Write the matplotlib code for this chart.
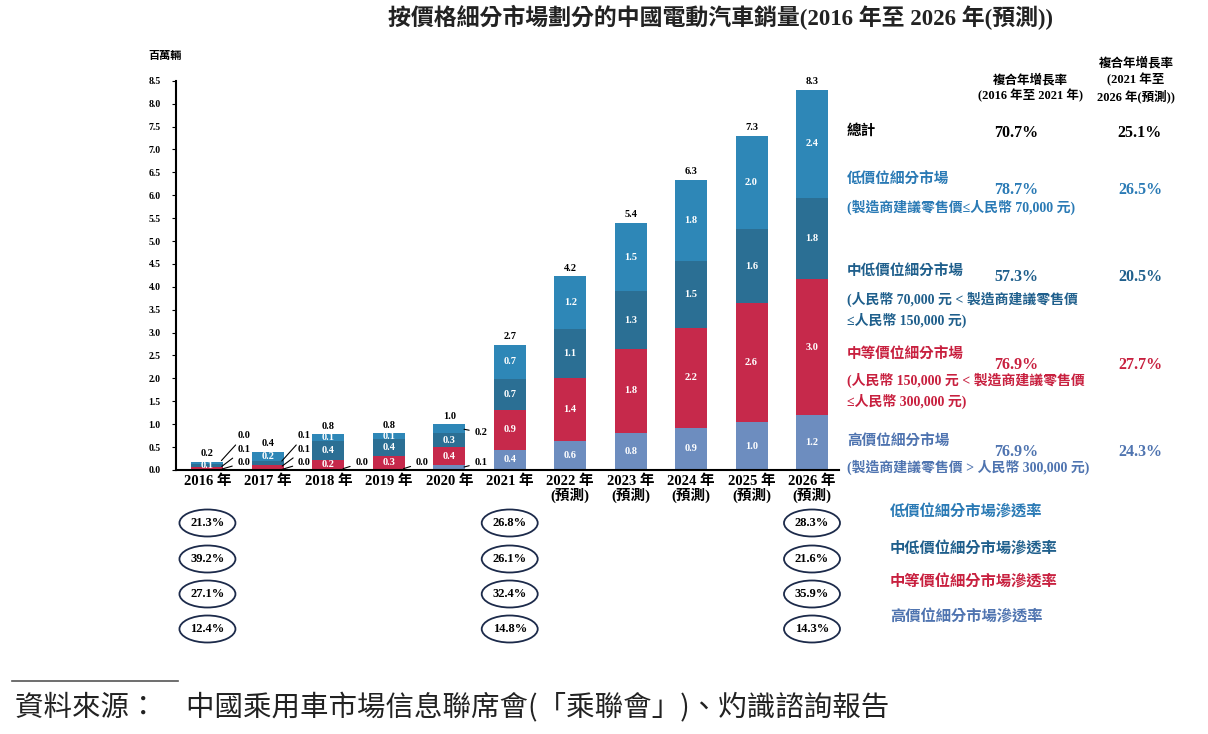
import matplotlib
matplotlib.use("Agg")
import matplotlib.pyplot as plt
from matplotlib.patches import Ellipse

plt.rcParams['font.family'] = ['Liberation Serif', 'Noto Sans CJK TC', 'DejaVu Sans']
plt.rcParams['font.weight'] = 'bold'

years = ["2016 年", "2017 年", "2018 年", "2019 年", "2020 年", "2021 年",
         "2022 年\n(預測)", "2023 年\n(預測)", "2024 年\n(預測)", "2025 年\n(預測)", "2026 年\n(預測)"]

# 百萬輛, 由下至上
high    = [0.01, 0.0, 0.02, 0.02, 0.1, 0.44, 0.63, 0.81, 0.92, 1.04, 1.2]
mid     = [0.06, 0.1, 0.2, 0.28, 0.4, 0.87, 1.38, 1.83, 2.19, 2.6, 2.96]
mid_low = [0.07, 0.1, 0.42, 0.38, 0.3, 0.68, 1.06, 1.26, 1.46, 1.62, 1.78]
low     = [0.04, 0.2, 0.14, 0.12, 0.2, 0.74, 1.16, 1.50, 1.76, 2.04, 2.36]

seg_names = ["高價位細分市場", "中等價位細分市場", "中低價位細分市場", "低價位細分市場"]
cagr_16_21 = ["76.9%", "76.9%", "57.3%", "78.7%"]
cagr_21_26 = ["24.3%", "27.7%", "20.5%", "26.5%"]
total_cagr = ["70.7%", "25.1%"]
seg_notes = ["(製造商建議零售價 > 人民幣 300,000 元)",
             "(人民幣 150,000 元 < 製造商建議零售價\n≤人民幣 300,000 元)",
             "(人民幣 70,000 元 < 製造商建議零售價\n≤人民幣 150,000 元)",
             "(製造商建議零售價≤人民幣 70,000 元)"]

# 滲透率 (2016, 2021, 2026)
pen_years = [0, 5, 10]
pen_low     = ["21.3%", "26.8%", "28.3%"]
pen_mid_low = ["39.2%", "26.1%", "21.6%"]
pen_mid     = ["27.1%", "32.4%", "35.9%"]
pen_high    = ["12.4%", "14.8%", "14.3%"]

colors = ["#6d8dbf", "#c6294b", "#2b6f94", "#2e87b7"]
text_colors = ["#4f74b0", "#c8203f", "#1f5f8c", "#2a7ab5"]

series = [high, mid, mid_low, low]

fig = plt.figure(figsize=(12.08, 7.34), dpi=100)
ax = fig.add_axes([0.1457, 0.3597, 0.549, 0.5303])

x = list(range(len(years)))
bottoms = [0.0] * len(years)
for vals, c in zip(series, colors):
    ax.bar(x, vals, bottom=bottoms, width=0.53, color=c, edgecolor='none')
    bottoms = [bt + v for bt, v in zip(bottoms, vals)]
totals = bottoms

# segment labels inside bars, small ones go outside with leader lines
outside = {0: [3, 1, 0], 1: [2, 1, 0], 2: [0], 3: [0], 4: [3, 0]}
for i in x:
    base = 0.0
    ext = outside.get(i, [])
    for k, vals in enumerate(series):
        v = vals[i]
        if k not in ext:
            ax.text(i, base + v / 2, f"{v:.1f}", ha='center', va='center', color='white',
                    fontsize=7.5, fontweight='bold')
        base += v
    ax.text(i, totals[i] + 0.08, f"{totals[i]:.1f}", ha='center', va='bottom', fontsize=7.5,
            fontweight='bold')

def ext_label(i, k, ty, xoff=0.5):
    base = sum(series[j][i] for j in range(k))
    v = series[k][i]
    ax.annotate(f"{v:.1f}", xy=(i + 0.2, base + v / 2), xytext=(i + xoff, ty),
                fontsize=7.5, fontweight='bold', va='center', ha='left',
                arrowprops=dict(arrowstyle='-', color='black', lw=0.8))

ext_label(0, 3, 0.75)
ext_label(0, 1, 0.45)
ext_label(0, 0, 0.16)
ext_label(1, 2, 0.75)
ext_label(1, 1, 0.45)
ext_label(1, 0, 0.16)
ext_label(2, 0, 0.16, 0.45)
ext_label(3, 0, 0.16, 0.45)
ext_label(4, 3, 0.82, 0.42)
ext_label(4, 0, 0.16, 0.42)

ax.set_xlim(-0.52, 10.45)
ax.set_ylim(0, 8.5)
ax.set_yticks([i * 0.5 for i in range(18)])
ax.set_yticklabels([f"{i * 0.5:.1f}" for i in range(18)], fontsize=7, fontweight='bold')
ax.set_xticks(x)
ax.set_xticklabels(years, fontsize=10.5, fontweight='bold', linespacing=1.05)
ax.tick_params(axis='y', length=3, width=0.8, pad=8)
ax.tick_params(axis='x', length=0, pad=3)
for s in ['top', 'right']:
    ax.spines[s].set_visible(False)
ax.spines['left'].set_linewidth(1.5)
ax.spines['bottom'].set_linewidth(1.5)

def ftext(px, py, s, **kw):
    fig.text(px / 1208, 1 - py / 734, s, **kw)

ftext(148, 56, "百萬輛", fontsize=8, fontweight='bold', ha='left', va='center')
ftext(721, 17, "按價格細分市場劃分的中國電動汽車銷量(2016 年至 2026 年(預測))",
      fontsize=16.5, fontweight='bold', ha='center', va='center', color='#222222')

# right side CAGR table
ftext(1030, 88, "複合年增長率\n(2016 年至 2021 年)", fontsize=9, ha='center', va='center',
      fontweight='bold', linespacing=1.3)
ftext(1136, 80, "複合年增長率\n(2021 年至\n2026 年(預測))", fontsize=9, ha='center', va='center',
      fontweight='bold', linespacing=1.3)
ftext(847, 131, "總計", fontsize=10.5, ha='left', va='center', fontweight='bold')
ftext(1016, 133, total_cagr[0], fontsize=11.5, ha='center', va='center', fontweight='bold')
ftext(1140, 133, total_cagr[1], fontsize=11.5, ha='center', va='center', fontweight='bold')

name_y = [442, 355, 272, 180]
rate_y = [452, 365, 277, 190]
note_y = [467, 391, 310, 207]
for k in range(4):
    c = text_colors[k]
    ftext(847, name_y[k], seg_names[k], fontsize=10.5, ha='left', va='center', color=c, fontweight='bold')
    ftext(1016, rate_y[k], cagr_16_21[k], fontsize=11.5, ha='center', va='center', color=c, fontweight='bold')
    ftext(1140, rate_y[k], cagr_21_26[k], fontsize=11.5, ha='center', va='center', color=c, fontweight='bold')
    ftext(847, note_y[k], seg_notes[k], fontsize=10, ha='left', va='center', color=c, fontweight='bold',
          linespacing=1.45)

# penetration rate ellipses below the axis
pen_rows = [pen_low, pen_mid_low, pen_mid, pen_high]
pen_labels = ["低價位細分市場滲透率", "中低價位細分市場滲透率", "中等價位細分市場滲透率", "高價位細分市場滲透率"]
pen_label_colors = [text_colors[3], text_colors[2], text_colors[1], text_colors[0]]
row_y = [523, 559, 594, 629]
lab_y = [512, 549, 582, 617]
for r, (row, py) in enumerate(zip(pen_rows, row_y)):
    yf = 1 - py / 734
    for yi, s in zip(pen_years, row):
        xd = ax.transData.transform((yi, 0))[0]
        xf = fig.transFigure.inverted().transform((xd, 0))[0]
        e = Ellipse((xf, yf), 56 / 1208, 27 / 734, transform=fig.transFigure, fill=False,
                    edgecolor='#1c2a4a', lw=1.3)
        fig.add_artist(e)
        fig.text(xf, yf, s, fontsize=9, ha='center', va='center', fontweight='bold')
    ftext(890, lab_y[r], pen_labels[r], fontsize=11, ha='left', va='center',
          color=pen_label_colors[r], fontweight='bold')

# source
fig.add_artist(plt.Line2D([12 / 1208, 178 / 1208], [1 - 681 / 734, 1 - 681 / 734],
                          transform=fig.transFigure, color='#555555', lw=1.2))
ftext(15, 708, "資料來源：　中國乘用車市場信息聯席會(「乘聯會」)、灼識諮詢報告", fontsize=20.5,
      ha='left', va='center', fontweight='normal', style='italic', color='#222222',
      family=['Noto Sans CJK TC', 'DejaVu Sans'])

fig.savefig("out.png", dpi=100)
